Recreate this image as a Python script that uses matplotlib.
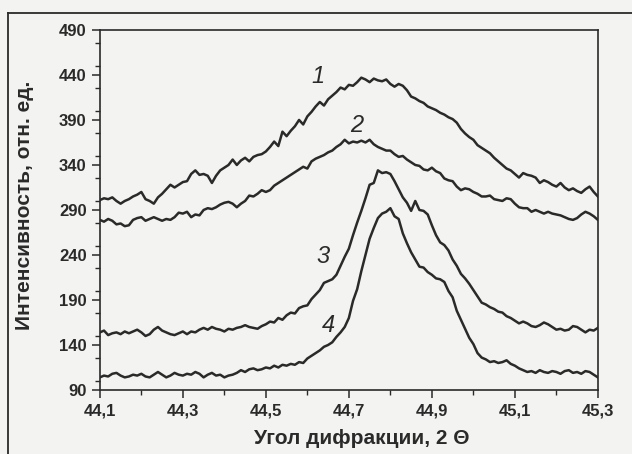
import numpy as np
import matplotlib
matplotlib.use("Agg")
import matplotlib.pyplot as plt
from matplotlib.lines import Line2D
from matplotlib.ticker import MultipleLocator

# 2 theta grid, step 0.01 deg
angle = np.round(np.arange(44.10, 45.305, 0.01), 2)

# curve values (rel. units)
curve1 = [301, 303, 302, 304, 300, 297, 300, 302, 305, 307,
          310, 302, 300, 297, 304, 308, 313, 318, 315, 318,
          321, 322, 330, 334, 329, 330, 328, 320, 328, 334,
          337, 340, 346, 340, 345, 348, 344, 349, 351, 352,
          355, 360, 366, 361, 377, 372, 378, 383, 390, 385,
          394, 399, 405, 410, 406, 413, 417, 421, 426, 424,
          429, 428, 432, 437, 435, 432, 436, 434, 433, 435,
          430, 427, 430, 428, 423, 416, 414, 411, 409, 405,
          403, 401, 398, 396, 393, 391, 387, 380, 375, 371,
          368, 362, 359, 356, 353, 348, 344, 340, 336, 334,
          330, 326, 331, 329, 328, 326, 320, 323, 321, 318,
          316, 320, 315, 312, 314, 311, 309, 313, 316, 310,
          305]
curve2 = [279, 277, 280, 278, 274, 275, 272, 273, 279, 281,
          282, 278, 280, 282, 280, 278, 280, 279, 282, 287,
          286, 288, 282, 285, 284, 290, 292, 291, 293, 296,
          298, 299, 297, 293, 297, 300, 306, 305, 308, 312,
          310, 312, 317, 320, 323, 326, 329, 332, 335, 338,
          336, 344, 347, 349, 351, 354, 356, 360, 363, 368,
          364, 366, 365, 367, 365, 368, 363, 360, 358, 356,
          356, 352, 349, 350, 346, 343, 340, 339, 335, 334,
          337, 333, 331, 325, 323, 322, 316, 312, 314, 313,
          310, 308, 305, 305, 306, 302, 301, 300, 303, 302,
          297, 293, 292, 292, 288, 290, 288, 286, 288, 286,
          285, 284, 282, 280, 279, 281, 285, 288, 286, 283,
          279]
curve3 = [154, 156, 151, 153, 154, 152, 155, 153, 155, 157,
          154, 150, 152, 157, 160, 156, 154, 152, 151, 153,
          155, 152, 155, 154, 157, 159, 157, 160, 158, 157,
          155, 158, 157, 159, 160, 162, 160, 159, 158, 161,
          163, 166, 165, 170, 168, 173, 176, 175, 181, 183,
          184, 191, 196, 201, 209, 211, 213, 218, 228, 238,
          247, 262, 276, 289, 303, 318, 320, 334, 331, 332,
          330, 322, 313, 304, 298, 289, 300, 290, 289, 285,
          273, 262, 254, 251, 245, 235, 228, 219, 214, 208,
          201, 194, 187, 185, 182, 180, 177, 176, 172, 170,
          167, 164, 166, 164, 161, 160, 162, 165, 163, 160,
          157, 158, 156, 157, 161, 160, 157, 154, 157, 156,
          159]
curve4 = [104, 106, 105, 108, 109, 106, 104, 105, 107, 106,
          108, 105, 104, 107, 110, 107, 104, 106, 109, 107,
          106, 108, 107, 110, 108, 104, 107, 109, 106, 107,
          104, 106, 107, 109, 112, 110, 113, 114, 112, 113,
          115, 114, 117, 115, 118, 117, 119, 118, 121, 120,
          125, 128, 131, 134, 138, 140, 143, 149, 154, 160,
          170, 189, 202, 222, 240, 258, 270, 281, 286, 288,
          292, 283, 280, 264, 253, 243, 235, 227, 226, 221,
          218, 214, 213, 210, 200, 193, 178, 168, 158, 148,
          141, 131, 126, 124, 121, 122, 120, 121, 123, 119,
          117, 114, 112, 110, 111, 109, 112, 110, 109, 111,
          110, 108, 111, 112, 109, 110, 108, 111, 110, 107,
          104]

curve_tags = ["1", "2", "3", "4"]
tag_pos = [(44.625, 438), (44.72, 384), (44.638, 238), (44.65, 162)]

xticks = [44.1, 44.3, 44.5, 44.7, 44.9, 45.1, 45.3]
xtick_labels = ["44,1", "44,3", "44,5", "44,7", "44,9", "45,1", "45,3"]
yticks = [90, 140, 190, 240, 290, 340, 390, 440, 490]

paper = "#f3f3f1"
ink = "#2a2a2a"

plt.rcParams["font.family"] = ["Liberation Sans", "DejaVu Sans"]

fig = plt.figure(figsize=(6.32, 4.54), dpi=100, facecolor=paper)
ax = fig.add_axes([0.158, 0.141, 0.788, 0.793], facecolor=paper)

for c in [curve1, curve2, curve3, curve4]:
    ax.plot(angle, c, color=ink, lw=1.8, solid_joinstyle="round")

for tag, (tx, ty) in zip(curve_tags, tag_pos):
    ax.text(tx, ty, tag, fontsize=17, style="italic", color=ink,
            ha="center", va="center")

ax.set_xlim(44.1, 45.3)
ax.set_ylim(90, 490)
ax.set_xticks(xticks)
ax.set_xticklabels(xtick_labels)
ax.set_yticks(yticks)
ax.xaxis.set_minor_locator(MultipleLocator(0.1))
ax.yaxis.set_minor_locator(MultipleLocator(25))
ax.tick_params(which="major", direction="out", length=6, width=1.1,
               color=ink, labelsize=12, labelcolor=ink)
ax.tick_params(which="minor", direction="out", length=3.5, width=1.0, color=ink)
for lab in ax.get_xticklabels() + ax.get_yticklabels():
    lab.set_fontweight("bold")
for s in ax.spines.values():
    s.set_linewidth(1.2)
    s.set_color(ink)

ax.set_xlabel("Угол дифракции, 2 \u0398", fontsize=15, fontweight="bold", color=ink)
ax.set_ylabel("Интенсивность, отн. ед.", fontsize=15, fontweight="bold", color=ink)
ax.xaxis.set_label_coords(0.526, -0.108)
ax.yaxis.set_label_coords(-0.132, 0.514)

# frame of the printed figure
fig.add_artist(Line2D([0.013, 1.0], [0.971, 0.971], color=ink, lw=1.3))
fig.add_artist(Line2D([0.013, 0.013], [0.0, 0.971], color=ink, lw=1.3))

fig.savefig("out.png", dpi=100, facecolor=paper)
